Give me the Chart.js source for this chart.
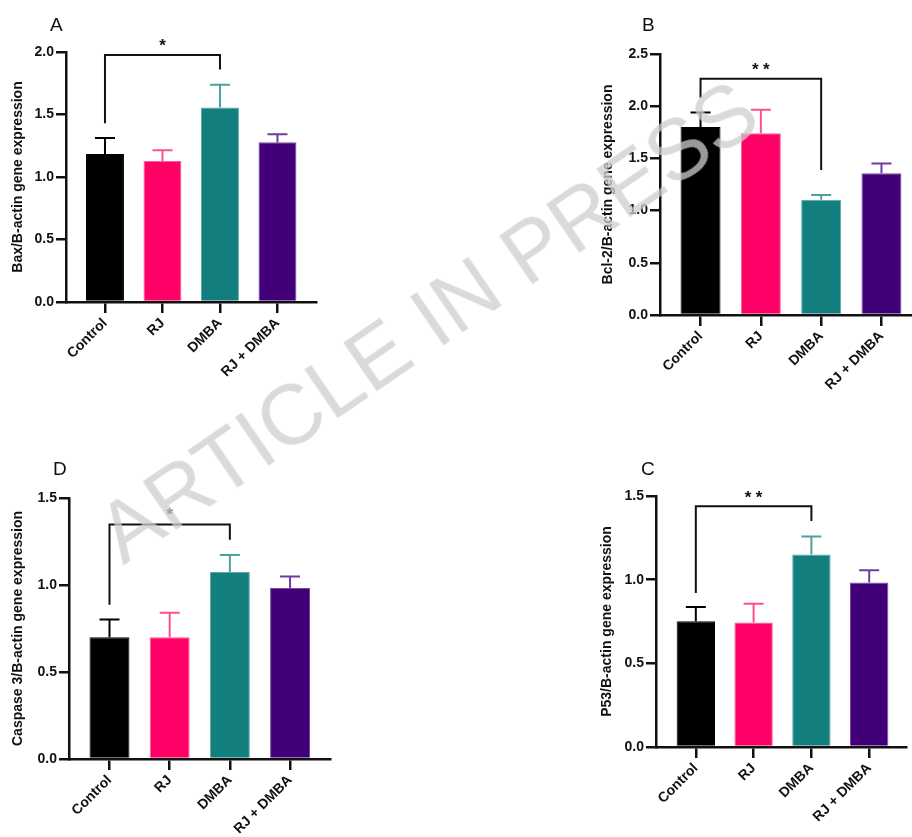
<!DOCTYPE html>
<html>
<head>
<meta charset="utf-8">
<script src="https://cdn.jsdelivr.net/npm/chart.js@4.4.1/dist/chart.umd.min.js"></script>
<style>
  html, body { margin: 0; padding: 0; background: #fff; }
  body { position: relative; width: 912px; height: 837px; overflow: hidden;
         font-family: "Liberation Sans", Arial, sans-serif; }
  canvas.panel { position: absolute; }
  .letter { position: absolute; font-size: 19px; line-height: 1; color: #111; }
  .watermark { position: absolute; left: 427px; top: 321px; white-space: nowrap;
               font-size: 85px; line-height: 1; color: rgba(205, 205, 205, 0.75);
               transform: translate(-50%, -50%) rotate(-34.5deg); pointer-events: none; }
</style>
</head>
<body>
<canvas id="chartA" class="panel" width="330" height="400" style="left:0;top:0"></canvas>
<canvas id="chartB" class="panel" width="332" height="400" style="left:580px;top:0"></canvas>
<canvas id="chartD" class="panel" width="340" height="417" style="left:0;top:420px"></canvas>
<canvas id="chartC" class="panel" width="332" height="417" style="left:580px;top:420px"></canvas>
<div class="letter" style="left:50px;top:15px">A</div>
<div class="letter" style="left:642px;top:15px">B</div>
<div class="letter" style="left:53px;top:459px">D</div>
<div class="letter" style="left:641px;top:459px">C</div>
<div class="watermark">ARTICLE IN PRESS</div>
<script>
// Groups shown on every panel
const categories = ['Control', 'RJ', 'DMBA', 'RJ + DMBA'];

// Relative expression (mean) and upper error (SD) per group
const baxMean   = [1.184, 1.128, 1.556, 1.278];
const baxErr    = [0.129, 0.086, 0.182, 0.064];
const bcl2Mean  = [1.80, 1.74, 1.103, 1.358];
const bcl2Err   = [0.14, 0.226, 0.047, 0.092];
const casp3Mean = [0.699, 0.699, 1.075, 0.983];
const casp3Err  = [0.103, 0.142, 0.097, 0.066];
const p53Mean   = [0.752, 0.744, 1.150, 0.983];
const p53Err    = [0.084, 0.112, 0.108, 0.074];

// Y-axis tick values
const ticksTo2   = [0, 0.5, 1.0, 1.5, 2.0];
const ticksTo2_5 = [0, 0.5, 1.0, 1.5, 2.0, 2.5];
const ticksTo1_5 = [0, 0.5, 1.0, 1.5];

// Control vs DMBA comparison: bracket level, left/right leg ends, star level, mark
const baxSig   = { level: 1.976, legs: [1.43, 1.86], starAt: 2.085, mark: '*' };
const bcl2Sig  = { level: 2.263, legs: [2.08, 1.39], starAt: 2.39, mark: '**' };
const casp3Sig = { level: 1.348, legs: [0.887, 1.26], starAt: 1.43, mark: '*' };
const p53Sig   = { level: 1.439, legs: [0.921, 1.351], starAt: 1.516, mark: '**' };

const fillColors  = ['#000000', '#ff0066', '#127f7e', '#420078'];
const edgeColors  = ['#000000', '#ff5a98', '#5ea9a6', '#7a4aa8'];
const errorColors = ['#000000', '#ff4d94', '#4aa3a0', '#6c3ca4'];

const BOLD = { family: '"Liberation Sans", Arial, sans-serif', weight: 'bold', size: 14 };

const errorAndBracket = {
  id: 'errorAndBracket',
  afterDatasetsDraw(chart, args, opts) {
    const { ctx } = chart;
    const xs = chart.scales.x, ys = chart.scales.y;
    const meta = chart.getDatasetMeta(0);
    ctx.save();
    ctx.lineWidth = 2;
    ctx.lineCap = 'butt';
    meta.data.forEach((bar, i) => {
      const top = ys.getPixelForValue(opts.means[i]);
      const tip = ys.getPixelForValue(opts.means[i] + opts.errs[i]);
      ctx.strokeStyle = errorColors[i];
      ctx.beginPath();
      ctx.moveTo(bar.x, top);
      ctx.lineTo(bar.x, tip);
      ctx.moveTo(bar.x - 10, tip);
      ctx.lineTo(bar.x + 10, tip);
      ctx.stroke();
    });
    const s = opts.sig;
    const xL = xs.getPixelForValue(0), xR = xs.getPixelForValue(2);
    const yLvl = ys.getPixelForValue(s.level);
    ctx.strokeStyle = '#111';
    ctx.lineJoin = 'miter';
    ctx.beginPath();
    ctx.moveTo(xL, ys.getPixelForValue(s.legs[0]));
    ctx.lineTo(xL, yLvl);
    ctx.lineTo(xR, yLvl);
    ctx.lineTo(xR, ys.getPixelForValue(s.legs[1]));
    ctx.stroke();
    ctx.fillStyle = '#111';
    ctx.font = 'bold 17px "Liberation Sans", Arial, sans-serif';
    ctx.textAlign = 'center';
    ctx.textBaseline = 'alphabetic';
    const xm = xs.getPixelForValue(1);
    const ym = ys.getPixelForValue(s.starAt) + 17 * 0.55;
    const n = s.mark.length, gap = 11;
    for (let k = 0; k < n; k++) {
      ctx.fillText('*', xm + (k - (n - 1) / 2) * gap, ym);
    }
    ctx.restore();
  }
};

function makePanel(id, p) {
  const ctx = document.getElementById(id);
  const canvasH = ctx.height;
  new Chart(ctx, {
    type: 'bar',
    data: {
      datasets: [{
        data: p.means.map((v, i) => ({ x: i, y: v })),
        backgroundColor: fillColors,
        borderColor: edgeColors,
        borderWidth: 1,
        categoryPercentage: 1,
        barPercentage: p.barPct
      }]
    },
    options: {
      responsive: false,
      animation: false,
      devicePixelRatio: 1,
      layout: { padding: { top: p.top, right: p.right, left: 0, bottom: 0 } },
      plugins: {
        legend: { display: false },
        tooltip: { enabled: false },
        errorAndBracket: { means: p.means, errs: p.errs, sig: p.sig }
      },
      scales: {
        x: {
          type: 'linear',
          min: p.xMin,
          max: p.xMax,
          offset: false,
          afterBuildTicks: s => { s.ticks = categories.map((c, i) => ({ value: i })); },
          afterFit: s => { s.height = canvasH - p.bottom; },
          grid: { offset: false, drawOnChartArea: false, drawTicks: true, tickLength: 11, lineWidth: 2.5, color: '#111' },
          border: { display: true, color: '#111', width: 2.5 },
          ticks: {
            autoSkip: false, minRotation: 45, maxRotation: 45, padding: 2,
            color: '#111', font: BOLD,
            callback: v => categories[v]
          }
        },
        y: {
          type: 'linear',
          min: 0,
          max: p.yTicks[p.yTicks.length - 1],
          afterBuildTicks: s => { s.ticks = p.yTicks.map(v => ({ value: v })); },
          afterFit: s => { s.width = p.yWidth; },
          grid: { drawOnChartArea: false, drawTicks: true, tickLength: 10, lineWidth: 2.5, color: '#111' },
          border: { display: true, color: '#111', width: 2.5 },
          ticks: { padding: 2, color: '#111', font: BOLD, callback: v => v.toFixed(1) },
          title: {
            display: true, text: p.title, color: '#111', font: BOLD,
            padding: { top: p.titlePad, bottom: 0 }
          }
        }
      }
    },
    plugins: [errorAndBracket]
  });
}

makePanel('chartA', {
  means: baxMean, errs: baxErr, sig: baxSig, yTicks: ticksTo2,
  title: 'Bax/B-actin gene expression',
  top: 52, bottom: 302, right: 14, yWidth: 66, titlePad: 10,
  xMin: -0.678, xMax: 3.67, barPct: 0.66
});
makePanel('chartB', {
  means: bcl2Mean, errs: bcl2Err, sig: bcl2Sig, yTicks: ticksTo2_5,
  title: 'Bcl-2/B-actin gene expression',
  top: 54, bottom: 315, right: 0, yWidth: 80, titlePad: 20,
  xMin: -0.672, xMax: 3.506, barPct: 0.663
});
makePanel('chartD', {
  means: casp3Mean, errs: casp3Err, sig: casp3Sig, yTicks: ticksTo1_5,
  title: 'Caspase 3/B-actin gene expression',
  top: 78, bottom: 339, right: 10, yWidth: 69, titlePad: 10,
  xMin: -0.673, xMax: 3.664, barPct: 0.664
});
makePanel('chartC', {
  means: p53Mean, errs: p53Err, sig: p53Sig, yTicks: ticksTo1_5,
  title: 'P53/B-actin gene expression',
  top: 76, bottom: 327, right: 6, yWidth: 76, titlePad: 19,
  xMin: -0.689, xMax: 3.637, barPct: 0.664
});
</script>
</body>
</html>
